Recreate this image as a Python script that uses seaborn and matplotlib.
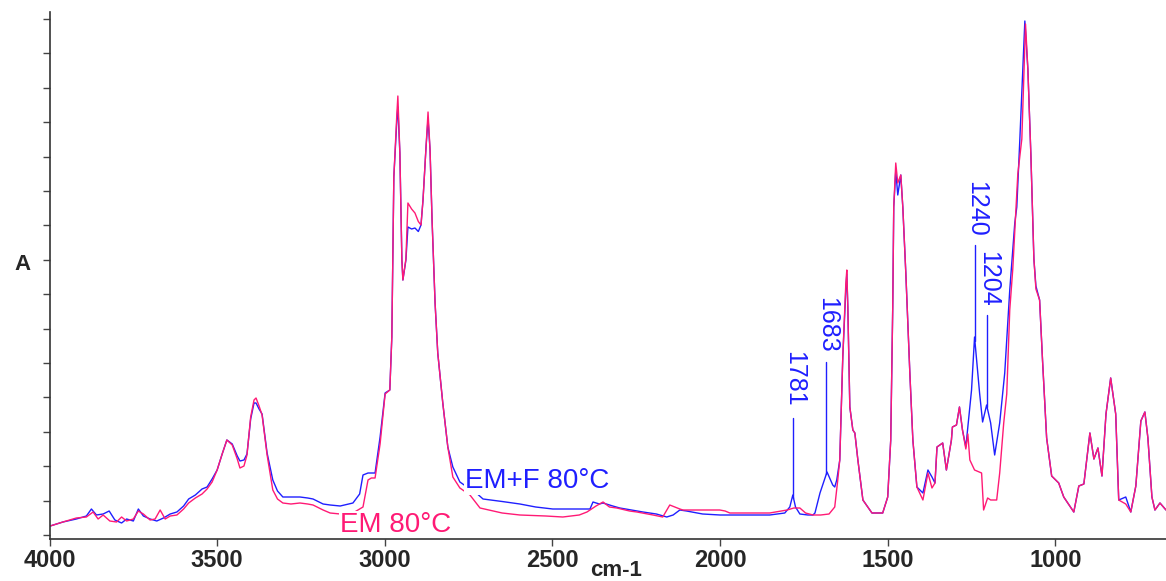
import numpy as np
import pandas as pd
import matplotlib
matplotlib.use("Agg")
import matplotlib.pyplot as plt
import seaborn as sns

# spectrum EM+F 80°C (blue): wavenumber (cm-1) and absorbance (arb.)
wn_emf = [3998, 3960, 3920, 3890, 3875, 3860, 3840, 3822, 3805, 3785, 3770, 3750, 3735, 3720,
          3700, 3680, 3660, 3640, 3620, 3600, 3585, 3565, 3545, 3530, 3515, 3500, 3485, 3471,
          3455, 3440, 3432, 3420, 3411, 3400, 3390, 3384, 3375, 3366, 3351, 3334, 3320, 3304,
          3280, 3253, 3230, 3214, 3184, 3163, 3133, 3095, 3075, 3065, 3050, 3029, 3014, 2999,
          2985, 2979, 2973, 2964, 2961, 2955, 2949, 2946, 2937, 2931, 2920, 2910, 2900, 2892,
          2886, 2877, 2871, 2865, 2859, 2850, 2842, 2827, 2812, 2797, 2776, 2746, 2737, 2707,
          2650, 2597, 2550, 2499, 2440, 2388, 2379, 2360, 2349, 2320, 2299, 2230, 2190, 2159,
          2140, 2120, 2100, 2052, 2000, 1950, 1900, 1852, 1807, 1792, 1783, 1775, 1762, 1738,
          1723, 1717, 1702, 1681, 1664, 1658, 1652, 1643, 1634, 1625, 1622, 1619, 1613, 1604,
          1598, 1589, 1574, 1547, 1515, 1500, 1491, 1485, 1482, 1476, 1470, 1461, 1455, 1446,
          1434, 1425, 1413, 1395, 1380, 1368, 1359, 1353, 1336, 1325, 1310, 1307, 1295, 1286,
          1277, 1267, 1261, 1250, 1241, 1226, 1217, 1205, 1193, 1181, 1166, 1151, 1136, 1121,
          1115, 1106, 1091, 1082, 1073, 1064, 1058, 1047, 1038, 1026, 1011, 990, 975, 945,
          930, 915, 897, 885, 873, 861, 849, 835, 820, 811, 790, 775, 760, 745, 733, 724,
          712, 703, 688, 670]
a_emf = [0.026, 0.034, 0.040, 0.046, 0.060, 0.048, 0.050, 0.056, 0.038, 0.032, 0.040, 0.036, 0.060, 0.046,
         0.040, 0.036, 0.042, 0.050, 0.054, 0.066, 0.080, 0.088, 0.100, 0.104, 0.120, 0.138, 0.170, 0.198,
         0.190, 0.166, 0.156, 0.158, 0.170, 0.240, 0.272, 0.272, 0.260, 0.250, 0.172, 0.118, 0.096, 0.084,
         0.084, 0.084, 0.082, 0.080, 0.070, 0.068, 0.066, 0.072, 0.090, 0.128, 0.132, 0.132, 0.204, 0.292,
         0.298, 0.404, 0.724, 0.838, 0.864, 0.772, 0.558, 0.518, 0.558, 0.624, 0.620, 0.622, 0.615, 0.628,
         0.678, 0.784, 0.840, 0.778, 0.638, 0.472, 0.372, 0.272, 0.184, 0.144, 0.114, 0.100, 0.098, 0.080,
         0.075, 0.070, 0.064, 0.060, 0.060, 0.060, 0.074, 0.070, 0.072, 0.066, 0.062, 0.054, 0.050, 0.044,
         0.048, 0.058, 0.056, 0.050, 0.048, 0.048, 0.048, 0.048, 0.052, 0.064, 0.088, 0.064, 0.050, 0.048,
         0.048, 0.052, 0.092, 0.134, 0.108, 0.104, 0.118, 0.158, 0.364, 0.498, 0.530, 0.464, 0.264, 0.218,
         0.212, 0.158, 0.078, 0.052, 0.052, 0.084, 0.198, 0.464, 0.664, 0.736, 0.688, 0.728, 0.664, 0.532,
         0.332, 0.198, 0.104, 0.092, 0.138, 0.124, 0.112, 0.184, 0.192, 0.138, 0.198, 0.224, 0.228, 0.264,
         0.218, 0.184, 0.224, 0.298, 0.404, 0.292, 0.234, 0.268, 0.232, 0.168, 0.232, 0.332, 0.498, 0.632,
         0.664, 0.798, 1.036, 0.940, 0.768, 0.560, 0.506, 0.478, 0.354, 0.202, 0.126, 0.112, 0.084, 0.054,
         0.106, 0.110, 0.212, 0.160, 0.182, 0.126, 0.250, 0.322, 0.250, 0.078, 0.084, 0.054, 0.106, 0.236,
         0.254, 0.202, 0.084, 0.058, 0.072, 0.058]

# spectrum EM 80°C (pink)
wn_em = [3998, 3960, 3920, 3890, 3870, 3855, 3840, 3820, 3800, 3785, 3770, 3750, 3735, 3720,
         3700, 3685, 3670, 3655, 3640, 3620, 3600, 3585, 3565, 3545, 3530, 3515, 3500, 3485,
         3471, 3455, 3440, 3432, 3420, 3411, 3400, 3390, 3384, 3375, 3366, 3351, 3334, 3320,
         3304, 3280, 3253, 3230, 3214, 3184, 3163, 3133, 3095, 3065, 3050, 3040, 3029, 3014,
         2999, 2985, 2979, 2973, 2964, 2961, 2955, 2949, 2946, 2937, 2931, 2920, 2910, 2900,
         2892, 2886, 2877, 2871, 2865, 2859, 2850, 2842, 2827, 2812, 2797, 2776, 2746, 2716,
         2650, 2597, 2520, 2469, 2420, 2397, 2370, 2349, 2330, 2308, 2270, 2248, 2200, 2171,
         2150, 2120, 2111, 2060, 2001, 1985, 1971, 1900, 1852, 1800, 1780, 1762, 1745, 1723,
         1700, 1675, 1658, 1649, 1643, 1634, 1625, 1622, 1619, 1613, 1604, 1598, 1589, 1574,
         1547, 1515, 1500, 1491, 1485, 1482, 1476, 1470, 1461, 1455, 1446, 1434, 1425, 1413,
         1395, 1380, 1368, 1359, 1353, 1336, 1325, 1310, 1307, 1295, 1286, 1277, 1267, 1261,
         1255, 1241, 1220, 1214, 1202, 1193, 1175, 1166, 1154, 1145, 1136, 1127, 1112, 1100,
         1089, 1082, 1073, 1064, 1058, 1047, 1038, 1026, 1011, 990, 975, 945, 930, 915,
         897, 885, 873, 861, 849, 835, 820, 811, 790, 775, 760, 745, 733, 724,
         712, 703, 688, 670]
a_em = [0.026, 0.034, 0.042, 0.044, 0.054, 0.040, 0.048, 0.036, 0.034, 0.044, 0.036, 0.040, 0.056, 0.050,
        0.038, 0.040, 0.058, 0.040, 0.046, 0.048, 0.060, 0.072, 0.082, 0.090, 0.100, 0.114, 0.138, 0.170,
        0.198, 0.188, 0.160, 0.142, 0.146, 0.168, 0.244, 0.278, 0.282, 0.266, 0.248, 0.168, 0.098, 0.080,
        0.072, 0.070, 0.072, 0.070, 0.068, 0.058, 0.052, 0.050, 0.052, 0.064, 0.118, 0.122, 0.122, 0.190,
        0.290, 0.298, 0.404, 0.724, 0.850, 0.886, 0.772, 0.558, 0.518, 0.560, 0.672, 0.660, 0.652, 0.635,
        0.628, 0.678, 0.784, 0.854, 0.778, 0.638, 0.472, 0.372, 0.272, 0.184, 0.124, 0.102, 0.088, 0.062,
        0.052, 0.048, 0.046, 0.044, 0.048, 0.054, 0.066, 0.074, 0.064, 0.062, 0.056, 0.054, 0.048, 0.044,
        0.068, 0.060, 0.058, 0.058, 0.058, 0.056, 0.052, 0.052, 0.052, 0.058, 0.062, 0.062, 0.052, 0.048,
        0.048, 0.050, 0.064, 0.118, 0.158, 0.364, 0.510, 0.538, 0.464, 0.264, 0.218, 0.212, 0.158, 0.078,
        0.052, 0.052, 0.084, 0.198, 0.464, 0.664, 0.752, 0.712, 0.728, 0.664, 0.532, 0.332, 0.198, 0.104,
        0.078, 0.132, 0.102, 0.112, 0.184, 0.192, 0.138, 0.198, 0.224, 0.228, 0.264, 0.218, 0.180, 0.210,
        0.158, 0.138, 0.132, 0.058, 0.082, 0.078, 0.078, 0.132, 0.232, 0.290, 0.458, 0.540, 0.730, 0.800,
        1.030, 0.940, 0.768, 0.560, 0.500, 0.478, 0.354, 0.202, 0.126, 0.112, 0.084, 0.054, 0.106, 0.110,
        0.212, 0.160, 0.182, 0.126, 0.250, 0.322, 0.250, 0.078, 0.070, 0.054, 0.106, 0.236, 0.254, 0.202,
        0.084, 0.058, 0.072, 0.058]

# labelled peaks of EM+F: wavenumber, top of leader line, bottom of text
peak_wn = [1781, 1683, 1240, 1204]
line_top = [0.242, 0.354, 0.588, 0.448]
text_bottom = [0.264, 0.372, 0.604, 0.464]

blue = "#1f1fff"
pink = "#ff1a75"

df_emf = pd.DataFrame({"wn": wn_emf, "A": a_emf})
df_em = pd.DataFrame({"wn": wn_em, "A": a_em})

sns.set_style("ticks")
plt.rcParams["font.family"] = ["Liberation Sans", "DejaVu Sans"]

fig = plt.figure(figsize=(11.66, 5.81), dpi=100)
ax = fig.add_axes([49.5 / 1166, 1 - 539 / 581, 1 - 49.5 / 1166, 527 / 581])

sns.lineplot(data=df_emf, x="wn", y="A", ax=ax, color=blue, lw=1.0, sort=False)
sns.lineplot(data=df_em, x="wn", y="A", ax=ax, color=pink, lw=1.0, sort=False)

ax.set_xlim(4000, 670)
ax.set_ylim(0, 527 / 500)
ax.set_xticks(np.arange(4000, 999, -500))
ax.set_xticklabels([str(v) for v in range(4000, 999, -500)], fontsize=17, fontweight="bold")
ax.set_yticks(0.008 + 0.0688 * np.arange(16))
ax.set_yticklabels([])
ax.tick_params(axis="both", direction="out", length=5, width=1, color="#444444", pad=2)
sns.despine(ax=ax, top=True, right=True)
for s in ["left", "bottom"]:
    ax.spines[s].set_linewidth(1.2)
    ax.spines[s].set_color("#333333")

ax.set_xlabel("cm-1", fontsize=16, fontweight="bold")
ax.xaxis.set_label_coords(0.507, -0.040)
ax.set_ylabel("A", fontsize=16, fontweight="bold", rotation=0)
ax.yaxis.set_label_coords(-0.024, 0.50)

# peak annotations
for p, top, tb in zip(peak_wn, line_top, text_bottom):
    ax.plot([p, p], [np.interp(p, wn_emf[::-1], a_emf[::-1]), top], color=blue, lw=1.0)
    ax.text(p - 3, tb, str(p), rotation=270, color=blue, fontsize=18,
            ha="center", va="bottom")

ax.text(2761, 0.102, "EM+F 80°C", color=blue, fontsize=20, ha="left", va="baseline", zorder=2.2,
        bbox=dict(facecolor="white", edgecolor="none", pad=0.5))
ax.text(3134, 0.014, "EM 80°C", color=pink, fontsize=20, ha="left", va="baseline", zorder=2.2,
        bbox=dict(facecolor="white", edgecolor="none", pad=0.5))

fig.savefig("out.png", dpi=100)
